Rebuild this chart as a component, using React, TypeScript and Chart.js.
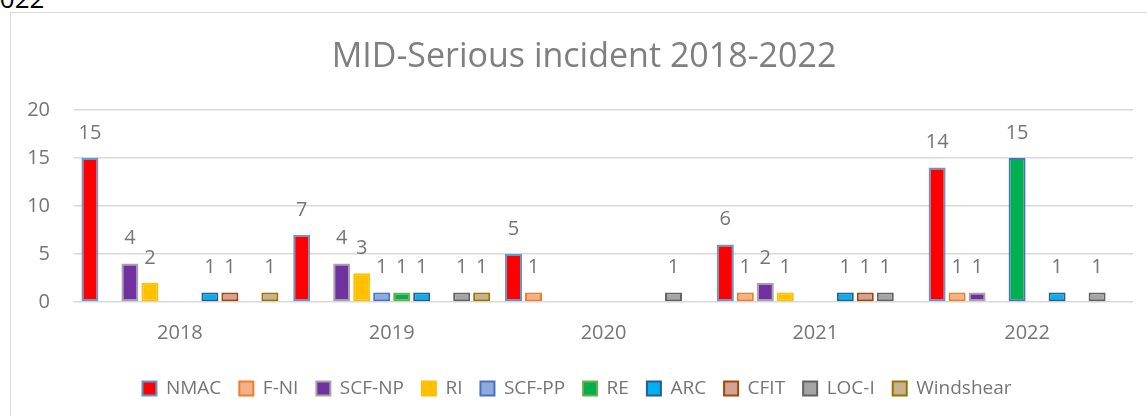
import React, { useEffect, useRef } from "react";
import { Chart, registerables } from "chart.js";

Chart.register(...registerables);

const categories = ["2018", "2019", "2020", "2021", "2022"];
const seriesNames = ["NMAC", "F-NI", "SCF-NP", "RI", "SCF-PP", "RE", "ARC", "CFIT", "LOC-I", "Windshear"];
const nmac = [15, 7, 5, 6, 14];
const fni = [null, null, 1, 1, 1];
const scfnp = [4, 4, null, 2, 1];
const ri = [2, 3, null, 1, null];
const scfpp = [null, 1, null, null, 15];
const re = [null, 1, null, null, null];
const arc = [1, 1, null, 1, 1];
const cfit = [1, null, null, 1, null];
const loci = [null, 1, 1, 1, 1];
const windshear = [1, 1, null, null, null];
const yTicks = [0, 5, 10, 15, 20];
const titleText = "MID-Serious incident 2018-2022";

const FONT = '"Open Sans", "Noto Sans", sans-serif';
const TEXT = "#757575";

const fills = ["#FF0000", "#F4B183", "#7030A0", "#FFC000", "#8FAADC", "#00B050", "#00B0F0", "#D4A392", "#A5A5A5", "#C9B290"];
const borders = ["#5B9BD5", "#ED7D31", "#A5A5A5", "#FFC000", "#4472C4", "#70AD47", "#255E91", "#9E480E", "#636363", "#997300"];
const highlightFill = "#00B050"; // SCF-PP 2022 point recoloured

const valueLabels = {
  id: "valueLabels",
  afterDatasetsDraw(chart: any) {
    const ctx = chart.ctx;
    ctx.save();
    ctx.font = `20px ${FONT}`;
    ctx.fillStyle = TEXT;
    ctx.textAlign = "center";
    ctx.textBaseline = "middle";
    chart.data.datasets.forEach((ds: any, i: number) => {
      const meta = chart.getDatasetMeta(i);
      meta.data.forEach((bar: any, j: number) => {
        const v = ds.data[j];
        if (v === null || v === undefined) return;
        ctx.fillText(String(v), bar.x, bar.y - 25);
      });
    });
    ctx.restore();
  },
};

const chartTitle = {
  id: "chartTitle",
  afterDraw(chart: any) {
    const ctx = chart.ctx;
    ctx.save();
    ctx.font = `34px ${FONT}`;
    ctx.fillStyle = "#7F7F7F";
    ctx.textAlign = "center";
    ctx.textBaseline = "middle";
    ctx.fillText(titleText, 573, 44);
    ctx.restore();
  },
};

export default function App() {
  const ref = useRef<HTMLCanvasElement | null>(null);

  useEffect(() => {
    let chart: any = null;
    let cancelled = false;
    const build = () => {
      if (cancelled || !ref.current) return;
      const values = [nmac, fni, scfnp, ri, scfpp, re, arc, cfit, loci, windshear];
      chart = new Chart(ref.current, {
        type: "bar",
        data: {
          labels: categories,
          datasets: values.map((d, i) => ({
            label: seriesNames[i],
            data: d,
            backgroundColor:
              i === 4
                ? (c: any) => (c.dataIndex === 4 ? highlightFill : fills[4])
                : fills[i],
            borderColor: borders[i],
            borderWidth: 2,
            borderSkipped: false,
            barPercentage: 0.85,
            categoryPercentage: 0.944,
          })),
        },
        options: {
          animation: false,
          responsive: false,
          maintainAspectRatio: false,
          layout: { padding: { left: 10, right: 25, top: 97, bottom: 21 } },
          plugins: {
            title: { display: false },
            legend: {
              position: "bottom",
              labels: {
                boxWidth: 14,
                boxHeight: 14,
                padding: 18,
                color: TEXT,
                font: { family: FONT, size: 19 },
              },
            },
            tooltip: { enabled: false },
          },
          scales: {
            x: {
              grid: { display: false },
              border: { display: false },
              ticks: { color: TEXT, font: { family: FONT, size: 20 }, padding: 11 },
              afterFit: (s: any) => {
                s.height = 59;
              },
            },
            y: {
              min: 0,
              max: 20,
              afterBuildTicks: (s: any) => {
                s.ticks = yTicks.map((v) => ({ value: v }));
              },
              grid: { color: "#D9D9D9", lineWidth: 1.5, drawTicks: false },
              border: { display: false },
              ticks: { color: TEXT, font: { family: FONT, size: 20 }, padding: 24 },
              afterFit: (s: any) => {
                s.width = 53;
              },
            },
          },
        },
        plugins: [valueLabels, chartTitle],
      });
    };
    const fontsReady = (document as any).fonts
      ? Promise.all([
          (document as any).fonts.load(`20px "Open Sans"`),
          (document as any).fonts.load(`34px "Open Sans"`),
        ]).catch(() => null)
      : Promise.resolve(null);
    fontsReady.then(build);
    return () => {
      cancelled = true;
      if (chart) chart.destroy();
    };
  }, []);

  return (
    <div
      style={{
        position: "fixed",
        left: 0,
        top: 0,
        width: 1147,
        height: 416,
        overflow: "hidden",
        background: "#fff",
      }}
    >
      <span
        style={{
          position: "absolute",
          left: -15,
          top: -15,
          fontFamily: FONT,
          fontSize: 26,
          lineHeight: "26px",
          color: "#000",
        }}
      >
        2022
      </span>
      <div
        style={{
          position: "absolute",
          left: 10,
          top: 12,
          width: 1300,
          height: 600,
          border: "1px solid #D9D9D9",
        }}
      />
      <canvas
        ref={ref}
        width={1147}
        height={416}
        style={{ position: "absolute", left: 11, top: 13, width: 1147, height: 416 }}
      />
    </div>
  );
}
